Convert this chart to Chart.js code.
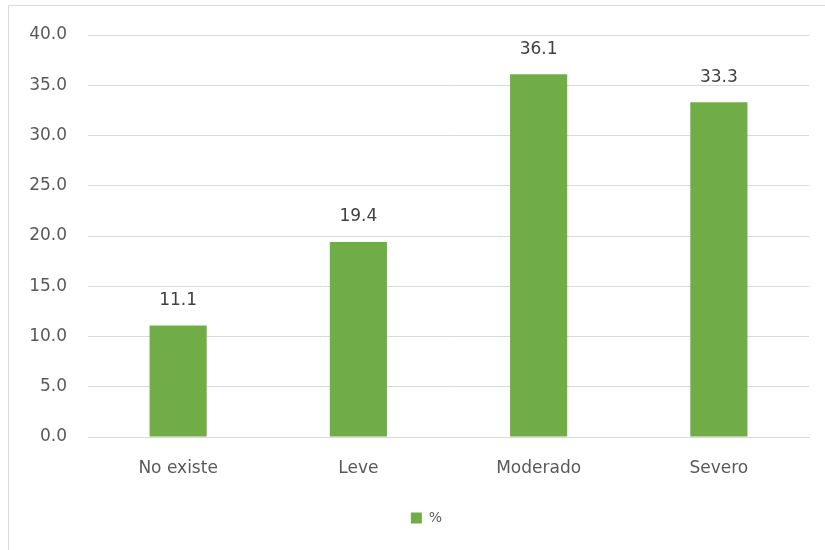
<!DOCTYPE html>
<html lang="es">
<head>
    <meta charset="UTF-8">
    <title>Grado</title>
    <script src="https://cdn.jsdelivr.net/npm/chart.js"></script>
    <style>
        html, body { margin: 0; padding: 0; background: #fff; }
        .wrap { position: relative; width: 825px; height: 550px; }
        .frame { position: absolute; left: 8px; top: 5px; width: 830px; height: 560px; border: 1px solid #d9d9d9; box-sizing: border-box; }
        canvas { position: absolute; left: 0; top: 0; }
    </style>
</head>
<body>
<div class="wrap">
    <div class="frame"></div>
    <canvas id="chart" width="825" height="550"></canvas>
</div>
<script>
    const categories = ['No existe', 'Leve', 'Moderado', 'Severo'];
    const percentValues = [11.1, 19.4, 36.1, 33.3];
    const yTicks = [0, 5, 10, 15, 20, 25, 30, 35, 40];

    const FONT = '"DejaVu Sans", "Open Sans", sans-serif';

    // value labels above each bar
    const barLabels = {
        id: 'barLabels',
        afterDatasetsDraw(chart) {
            const ctx = chart.ctx;
            const meta = chart.getDatasetMeta(0);
            ctx.save();
            ctx.font = '17px ' + FONT;
            ctx.fillStyle = '#404040';
            ctx.textAlign = 'center';
            ctx.textBaseline = 'middle';
            meta.data.forEach((bar, i) => {
                ctx.fillText(percentValues[i].toFixed(1), bar.x, bar.y - 25);
            });
            ctx.restore();
        }
    };

    // nudge the legend a bit to the right, like the original
    const legendShift = {
        id: 'legendShift',
        afterLayout(chart) {
            chart.legend.left += 44;
        }
    };

    new Chart(document.getElementById('chart'), {
        type: 'bar',
        data: {
            labels: categories,
            datasets: [{
                label: '%',
                data: percentValues,
                backgroundColor: '#70ad47',
                borderWidth: 0,
                categoryPercentage: 1,
                barPercentage: 0.317
            }]
        },
        options: {
            responsive: false,
            animation: false,
            layout: { padding: { left: 0, right: 16, top: 35, bottom: 15 } },
            plugins: {
                legend: {
                    position: 'bottom',
                    labels: {
                        boxWidth: 11,
                        boxHeight: 11,
                        padding: 10,
                        color: '#595959',
                        font: { family: FONT, size: 14 }
                    }
                },
                tooltip: { enabled: false }
            },
            scales: {
                x: {
                    grid: { display: false, drawTicks: false },
                    border: { color: '#d9d9d9', width: 1 },
                    ticks: { color: '#595959', padding: 21, font: { family: FONT, size: 17 } },
                    afterFit(scale) { scale.height = 64; }
                },
                y: {
                    min: 0,
                    max: 40,
                    afterBuildTicks(scale) { scale.ticks = yTicks.map(v => ({ value: v })); },
                    grid: { color: '#d9d9d9', drawTicks: false },
                    border: { display: false },
                    ticks: {
                        color: '#595959',
                        padding: 21,
                        font: { family: FONT, size: 17 },
                        callback: v => v.toFixed(1)
                    },
                    afterFit(scale) { scale.width = 88; }
                }
            }
        },
        plugins: [barLabels, legendShift]
    });
</script>
</body>
</html>
